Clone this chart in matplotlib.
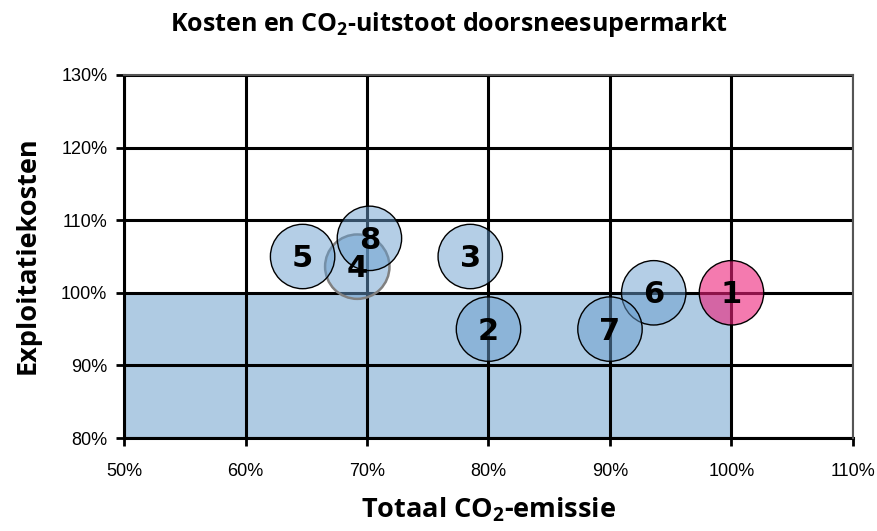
import numpy as np
import matplotlib.pyplot as plt
from matplotlib.ticker import FuncFormatter

plt.rcParams['mathtext.fontset'] = 'custom'
plt.rcParams['mathtext.rm'] = 'Open Sans:bold'
plt.rcParams['mathtext.bf'] = 'Open Sans:bold'

# bubble data: total CO2 emission (x) vs operating cost (y), in %
labels = ['1', '2', '3', '4', '5', '6', '7', '8']
co2 = [100, 80, 78.5, 69.2, 64.7, 93.6, 90, 70.2]
kosten = [100, 95, 105, 103.6, 105, 100, 95, 107.5]

# shaded reference area (below 100% cost, 50-100% co2)
area_x = [50, 100]
area_y = [80, 100]

fig = plt.figure(figsize=(8.77, 5.31), dpi=100)
ax = fig.add_axes([0.1414, 0.1751, 0.8312, 0.6837])

ax.set_xlim(50, 110)
ax.set_ylim(80, 130)
ax.set_xticks(np.arange(50, 111, 10))
ax.set_yticks(np.arange(80, 131, 10))
pct = FuncFormatter(lambda v, p: '%d%%' % v)
ax.xaxis.set_major_formatter(pct)
ax.yaxis.set_major_formatter(pct)

ax.fill_between(area_x, area_y[0], area_y[1], color='#afcbe3', zorder=1, lw=0)
ax.set_axisbelow(False)
ax.grid(True, color='black', lw=2.2)

for lab, x, y in zip(labels, co2, kosten):
    if lab == '1':
        fc, ec, lw, a = '#ed217b', 'black', 1.0, 0.6
    elif lab == '4':
        fc, ec, lw, a = '#6a9fcf', '#808080', 1.8, 0.5
    else:
        fc, ec, lw, a = '#6a9fcf', 'black', 1.0, 0.5
    z = 5 if lab == '8' else 4
    ax.scatter([x], [y], s=2150, facecolor=fc, alpha=a, edgecolor='none', zorder=z)
    ax.scatter([x], [y], s=2150, facecolor='none', edgecolor=ec, lw=lw, zorder=z)
    ax.text(x, y - 0.3, lab, ha='center', va='center', fontsize=22, fontweight='bold',
            family='DejaVu Sans', zorder=6)

for s in ['left', 'bottom']:
    ax.spines[s].set_linewidth(2.2)
    ax.spines[s].set_color('black')
for s in ['top', 'right']:
    ax.spines[s].set_linewidth(1.5)
    ax.spines[s].set_color('#555555')
    ax.spines[s].set_zorder(3)

ax.tick_params(axis='both', length=6, width=2, color='black', labelsize=13, pad=6)
for t in ax.get_xticklabels() + ax.get_yticklabels():
    t.set_family('Liberation Sans')
ax.tick_params(axis='x', pad=12)

fig.text(0.512, 0.953, r'Kosten en CO$_\mathbf{2}$-uitstoot doorsneesupermarkt', ha='center', va='center',
         fontsize=18, fontweight='bold', family='Open Sans')
fig.text(0.557, 0.04, r'Totaal CO$_\mathbf{2}$-emissie', ha='center', va='center',
         fontsize=19.5, fontweight='bold', family='Open Sans')
fig.text(0.032, 0.52, 'Exploitatiekosten', ha='center', va='center', rotation=90,
         fontsize=19.5, fontweight='bold', family='Open Sans')

fig.savefig('out.png', dpi=100)
